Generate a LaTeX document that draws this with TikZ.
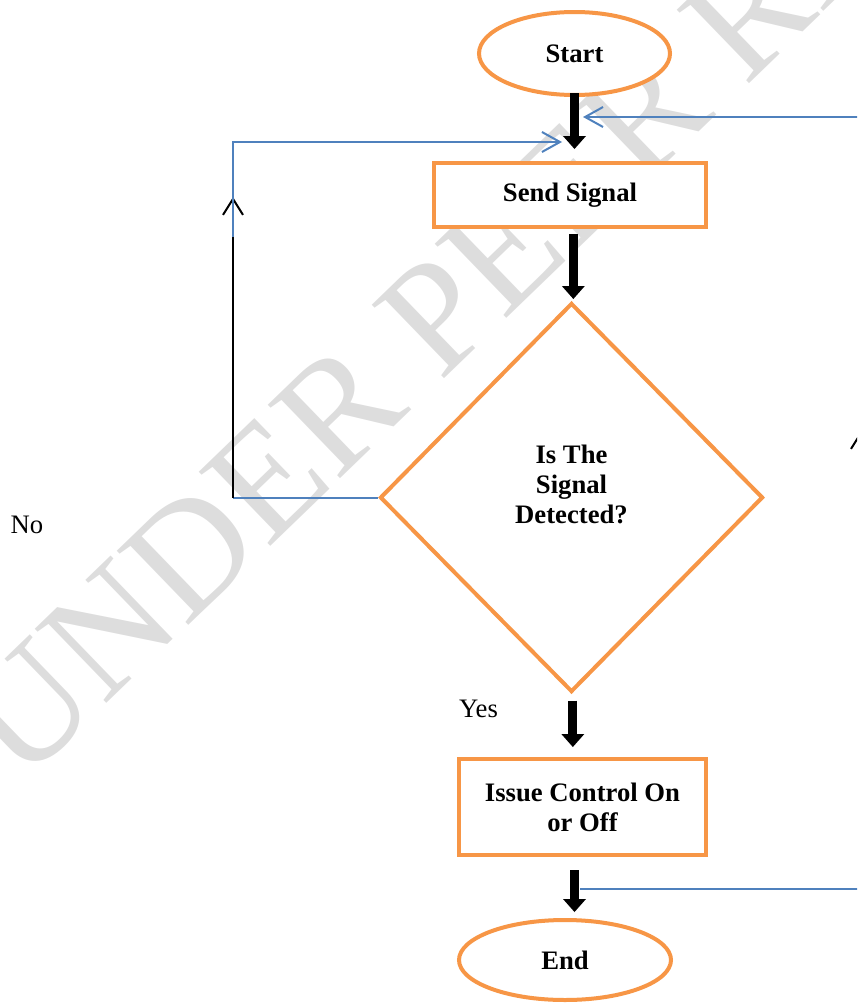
\documentclass[tikz,border=0pt]{standalone}
\usepackage{fontspec}
\setmainfont{Liberation Serif}
\usetikzlibrary{shapes.geometric,arrows.meta}
\definecolor{boxorange}{RGB}{247,150,70}
\definecolor{linkblue}{RGB}{79,129,189}
\definecolor{markgray}{RGB}{221,221,221}

\begin{document}
\begin{tikzpicture}[x=0.75pt,y=0.75pt,yscale=-1,xscale=1,
    terminal/.style={ellipse,draw=boxorange,fill=white,line width=3pt,inner sep=0pt,font=\fontsize{20}{22.5}\selectfont\bfseries},
    process/.style={rectangle,draw=boxorange,fill=white,line width=3pt,inner sep=0pt,align=center,font=\fontsize{20}{22.5}\selectfont\bfseries},
    decision/.style={diamond,draw=boxorange,fill=white,line width=3pt,inner sep=0pt},
    flow/.style={line width=6.75pt,-{Triangle[width=17.25pt,length=9.75pt,line width=0pt]}},
    link/.style={draw=linkblue,line width=1.5pt},
    linkarrow/.style={link,-{Straight Barb[length=13.5pt,width=15pt]}},
    backarrow/.style={line width=1.5pt,-{Straight Barb[length=12pt,width=15pt]}},
    plain/.style={font=\fontsize{20}{22.5}\selectfont},
    watermark/.style={text=markgray,font=\fontsize{118}{118}\selectfont,inner sep=0pt}
]
    \useasboundingbox (0,0) rectangle (857,1003);
    \clip (0,0) rectangle (857,1003);

    % Watermark
    \node (mark) [watermark,rotate=44,anchor=base west] at (22,786) {UNDER PEER REVIEW};

    % Shapes
    \node (start) [terminal,minimum width=143.25pt,minimum height=62.25pt] at (574.5,53.5) {Start};
    \node (send) [process,minimum width=204pt,minimum height=48pt] at (570,195) {Send Signal};
    \node (detect) [decision,minimum width=287.25pt,minimum height=291.75pt] at (571.5,497.5) {};
    \node (detecttext) [plain,font=\fontsize{20}{22.5}\selectfont\bfseries,align=center] at ([yshift=-10pt]detect.center) {Is The\\Signal\\Detected?};
    \node (issue) [process,minimum width=185.25pt,minimum height=72pt] at (582.5,807) {Issue Control On\\or Off};
    \node (stop) [terminal,minimum width=159pt,minimum height=60pt] at (565,960) {End};

    % Text Node
    \node (no) [plain] at (27,525) {No};
    \node (yes) [plain] at (478.5,709) {Yes};

    % Main flow
    \draw [flow,shorten <=-3pt,shorten >=9pt] (start.south) -- (start.south |- send.north);
    \draw [flow,shorten <=3.75pt,shorten >=1.5pt] ([xshift=2.5pt]send.south) -- ([xshift=2.5pt]send.south |- detect.north);
    \draw [flow,shorten <=5pt,shorten >=7.5pt] ([xshift=1pt]detect.south) -- ([xshift=1pt]detect.south |- issue.north);
    \draw [flow,shorten <=9.75pt,shorten >=4.5pt] (issue.south -| start.south) -- (stop.north -| start.south);

    % No branch
    \coordinate (nocorner) at (233,497.5);
    \coordinate (nohead) at (233,197);
    \coordinate (noblue) at (233,237);
    \coordinate (notop) at (233,142);
    \coordinate (nojoin) at (562,142);
    \draw [link] (detect.west) -- (nocorner);
    \draw [backarrow] (nocorner) -- (nohead);
    \draw [linkarrow] (noblue) -- (notop) -- (nojoin);

    % Loop back from the end
    \coordinate (loopstart) at (580,889);
    \coordinate (loopcorner) at (861,889);
    \coordinate (loophead) at (861,431);
    \coordinate (looptop) at (861,117);
    \coordinate (loopjoin) at (583,117);
    \draw [backarrow] (loopcorner) -- (loophead);
    \draw [linkarrow] (loopstart) -- (loopcorner) -- (looptop) -- (loopjoin);
\end{tikzpicture}
\end{document}
